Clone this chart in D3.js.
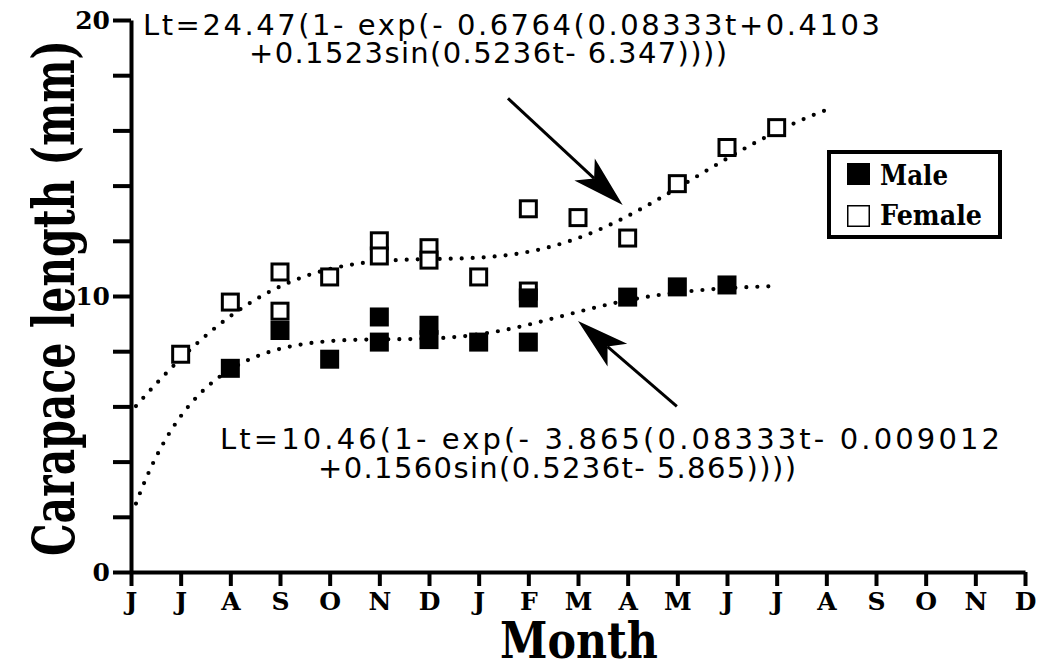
<!DOCTYPE html>
<html>
<head>
<meta charset="utf-8">
<script src="https://cdn.jsdelivr.net/npm/d3@7"></script>
<style>
body { margin: 0; background: #fff; }
svg { display: block; background: #fff; }
.serif { font-family: 'DejaVu Serif', serif; font-weight: bold; fill: #000; }
.eq { font-family: 'DejaVu Sans', sans-serif; font-size: 29px; fill: #000; }
</style>
</head>
<body>
<svg id="chart" width="1039" height="667"></svg>
<script>
'use strict';

// month axis, June of year one to December of year two
var months = ['J', 'J', 'A', 'S', 'O', 'N', 'D', 'J', 'F', 'M', 'A', 'M', 'J', 'J', 'A', 'S', 'O', 'N', 'D'];
var yTicks = [0, 2, 4, 6, 8, 10, 12, 14, 16, 18, 20];
var yLabels = [0, 10, 20];

// observed mean carapace lengths (mm), by month index
var femaleMonth = [1, 2, 3, 3, 4, 5, 5, 6, 6, 7, 8, 8, 9, 10, 11, 12, 13];
var femaleLength = [7.89, 9.78, 10.87, 9.45, 10.69, 12.0, 11.45, 11.75, 11.3, 10.69, 13.16, 10.18, 12.84, 12.1, 14.07, 15.38, 16.1];
var maleMonth = [2, 3, 4, 5, 5, 6, 6, 7, 8, 8, 10, 11, 12];
var maleLength = [7.38, 8.75, 7.71, 9.24, 8.33, 8.94, 8.42, 8.33, 9.93, 8.33, 9.96, 10.33, 10.4];

// fitted seasonal growth curves: Linf, K, a, b, C, w, phase
var femaleFit = [24.47, 0.6764, 0.08333, 0.4103, 0.1523, 0.5236, -6.347];
var maleFit = [10.46, 3.865, 0.08333, -0.009012, 0.1560, 0.5236, -5.865];
var femaleRange = [0.1, 14.05];
var maleRange = [0.1, 12.85];

var femaleEquation = ['Lt=24.47(1- exp(- 0.6764(0.08333t+0.4103', '+0.1523sin(0.5236t- 6.347))))'];
var maleEquation = ['Lt=10.46(1- exp(- 3.865(0.08333t- 0.009012', '+0.1560sin(0.5236t- 5.865))))'];

var svg = d3.select('#chart');

var x = d3.scaleLinear().domain([0, 18]).range([131, 1025]);
var y = d3.scaleLinear().domain([0, 20]).range([572, 20]);

function growth(p, t) {
    var u = p[2] * t + p[3] + p[4] * Math.sin(p[5] * t + p[6]);
    return p[0] * (1 - Math.exp(-p[1] * u));
}

function curvePoints(p, range) {
    var pts = [];
    for (var t = range[0]; t <= range[1] + 1e-9; t += 0.05) {
        pts.push([t, growth(p, t)]);
    }
    return pts;
}

// axes
var yAxis = d3.axisLeft(y)
    .tickValues(yTicks)
    .tickSize(18)
    .tickSizeOuter(0)
    .tickPadding(3)
    .tickFormat(function(d) { return yLabels.indexOf(d) >= 0 ? d : ''; });

var xAxis = d3.axisBottom(x)
    .tickValues(d3.range(months.length))
    .tickSize(14)
    .tickSizeOuter(0)
    .tickPadding(6)
    .tickFormat(function(i) { return months[i]; });

var gx = svg.append('g')
    .attr('transform', 'translate(0,' + y(0) + ')')
    .call(xAxis);
var gy = svg.append('g')
    .attr('transform', 'translate(' + x(0) + ',0)')
    .call(yAxis);

[gx, gy].forEach(function(g) {
    g.select('.domain').attr('stroke', '#000').attr('stroke-width', 4);
    g.selectAll('.tick line').attr('stroke', '#000').attr('stroke-width', 4);
    g.selectAll('.tick text')
        .style('font-family', "'DejaVu Serif', serif")
        .style('font-weight', 'bold')
        .style('font-size', '25px')
        .attr('fill', '#000');
});

// fitted curves, dotted
var line = d3.line()
    .x(function(d) { return x(d[0]); })
    .y(function(d) { return y(d[1]); });

[[femaleFit, femaleRange], [maleFit, maleRange]].forEach(function(c) {
    svg.append('path')
        .datum(curvePoints(c[0], c[1]))
        .attr('d', line)
        .attr('fill', 'none')
        .attr('stroke', '#000')
        .attr('stroke-width', 4.2)
        .attr('stroke-linecap', 'round')
        .attr('stroke-dasharray', '0 11');
});

// data squares
var size = 19;
svg.selectAll('.female')
    .data(femaleMonth)
    .enter().append('rect')
    .attr('class', 'female')
    .attr('x', function(d) { return x(d) - size / 2 + 1.5; })
    .attr('y', function(d, i) { return y(femaleLength[i]) - size / 2 + 1.5; })
    .attr('width', size - 3)
    .attr('height', size - 3)
    .attr('fill', '#fff')
    .attr('stroke', '#000')
    .attr('stroke-width', 3);

svg.selectAll('.male')
    .data(maleMonth)
    .enter().append('rect')
    .attr('class', 'male')
    .attr('x', function(d) { return x(d) - size / 2; })
    .attr('y', function(d, i) { return y(maleLength[i]) - size / 2; })
    .attr('width', size)
    .attr('height', size)
    .attr('fill', '#000');

// equations
function equation(lines, pos) {
    lines.forEach(function(s, i) {
        svg.append('text')
            .attr('class', 'eq')
            .attr('x', pos[i][0])
            .attr('y', pos[i][1])
            .attr('textLength', pos[i][2])
            .attr('lengthAdjust', 'spacing')
            .text(s);
    });
}
equation(femaleEquation, [[143, 35, 737], [249, 63, 478]]);
equation(maleEquation, [[220, 449, 780], [318, 478, 478]]);

// arrows, ends given in data units
function arrow(from, to) {
    var x0 = x(from[0]), y0 = y(from[1]), x1 = x(to[0]), y1 = y(to[1]);
    var len = Math.hypot(x1 - x0, y1 - y0);
    var ux = (x1 - x0) / len, uy = (y1 - y0) / len;
    var nx = -uy, ny = ux;
    var hl = 52, hw = 15, notch = 13;
    var bx = x1 - ux * hl, by = y1 - uy * hl;
    var mx = x1 - ux * (hl - notch), my = y1 - uy * (hl - notch);
    svg.append('line')
        .attr('x1', x0).attr('y1', y0)
        .attr('x2', mx).attr('y2', my)
        .attr('stroke', '#000')
        .attr('stroke-width', 3);
    svg.append('path')
        .attr('d', 'M' + x1 + ',' + y1 +
            'L' + (bx + nx * hw) + ',' + (by + ny * hw) +
            'L' + mx + ',' + my +
            'L' + (bx - nx * hw) + ',' + (by - ny * hw) + 'Z')
        .attr('fill', '#000');
}
arrow([7.59, 17.16], [9.9, 13.3]);
arrow([10.99, 6.0], [9.0, 9.09]);

// legend
var legend = svg.append('g');
legend.append('rect')
    .attr('x', 829).attr('y', 152)
    .attr('width', 171).attr('height', 85)
    .attr('fill', '#fff')
    .attr('stroke', '#000')
    .attr('stroke-width', 4);
legend.append('rect')
    .attr('x', 847).attr('y', 163)
    .attr('width', 23).attr('height', 22)
    .attr('fill', '#000');
legend.append('rect')
    .attr('x', 847.75).attr('y', 205.75)
    .attr('width', 21.5).attr('height', 20.5)
    .attr('fill', 'none')
    .attr('stroke', '#000')
    .attr('stroke-width', 1.5);
legend.append('text')
    .attr('class', 'serif')
    .attr('x', 880).attr('y', 185)
    .style('font-size', '27px')
    .attr('textLength', 68)
    .attr('lengthAdjust', 'spacingAndGlyphs')
    .text('Male');
legend.append('text')
    .attr('class', 'serif')
    .attr('x', 880).attr('y', 225)
    .style('font-size', '27px')
    .attr('textLength', 102)
    .attr('lengthAdjust', 'spacingAndGlyphs')
    .text('Female');

// axis titles
svg.append('text')
    .attr('class', 'serif')
    .attr('x', 500).attr('y', 658)
    .style('font-size', '50px')
    .attr('textLength', 158)
    .attr('lengthAdjust', 'spacingAndGlyphs')
    .text('Month');

svg.append('text')
    .attr('class', 'serif')
    .attr('transform', 'translate(74,556) rotate(-90)')
    .style('font-size', '57px')
    .attr('textLength', 516)
    .attr('lengthAdjust', 'spacingAndGlyphs')
    .text('Carapace length (mm)');
</script>
</body>
</html>
